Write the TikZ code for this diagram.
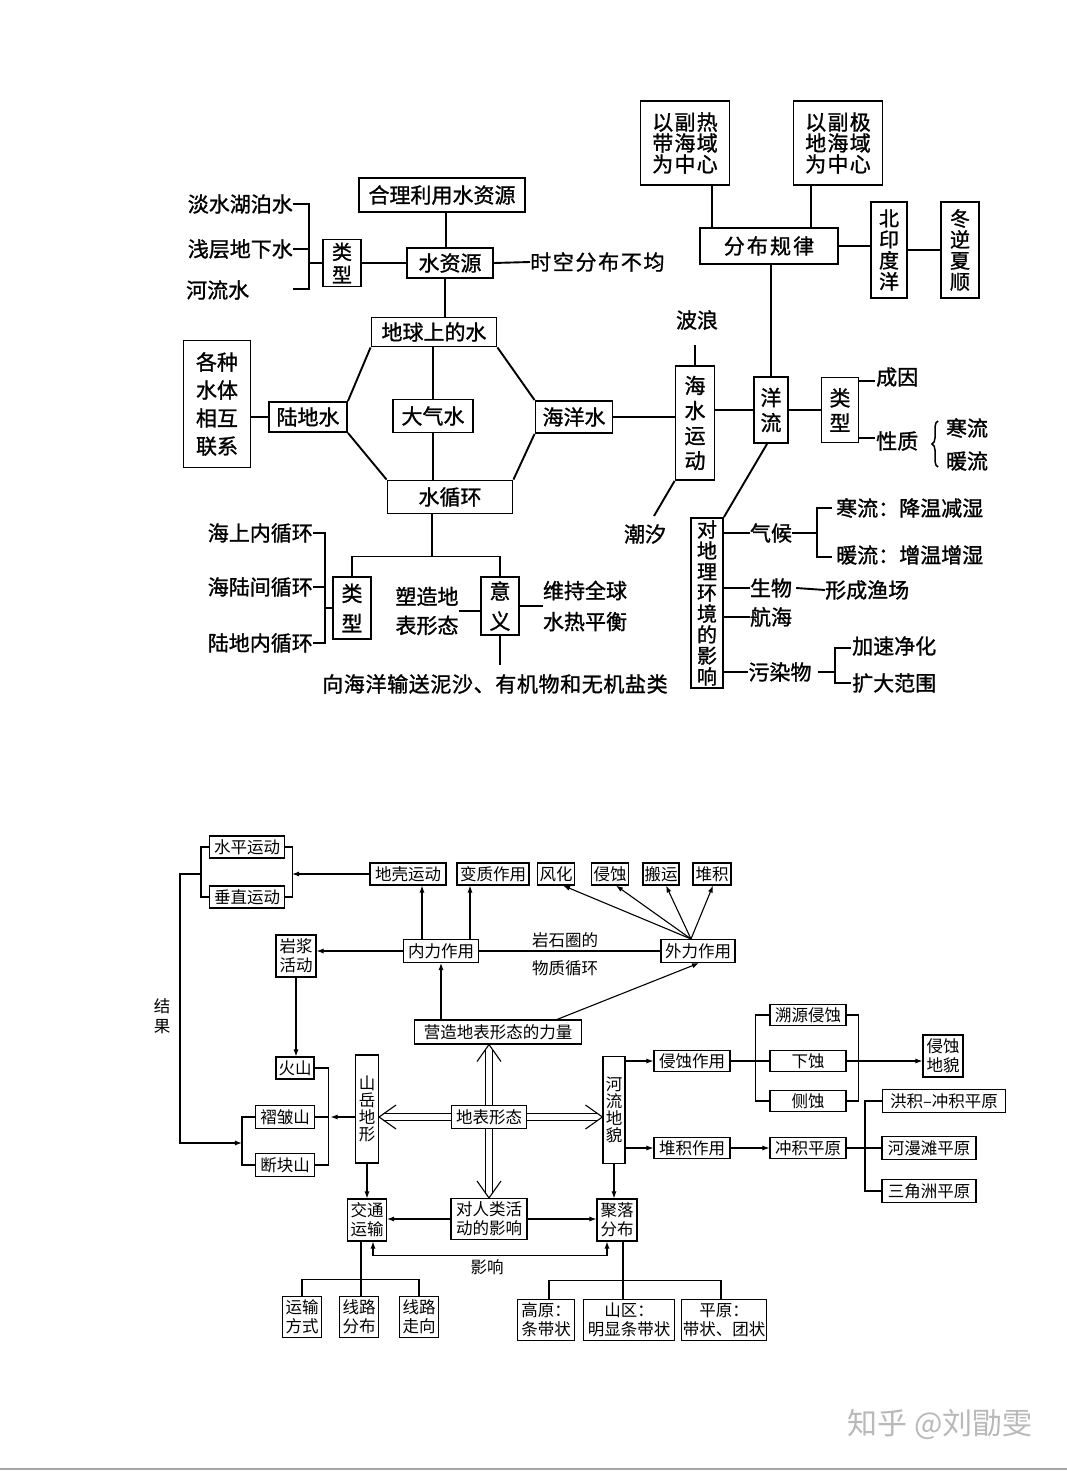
\documentclass[tikz,border=0pt]{standalone}
\usepackage{fontspec}
\setmainfont{Noto Sans CJK SC}
\newfontfamily\heavyfont{Noto Sans CJK SC}[FakeBold=1.2]
\usetikzlibrary{arrows.meta,decorations.pathreplacing}
\begin{document}
\begin{tikzpicture}[
        x = 1pt, y = -1pt,
        box/.style = {draw, line width=1.9pt, inner sep=0pt, align=center, font=\heavyfont\fontsize{21}{24}\selectfont},
        txt/.style = {inner sep=0pt, align=center, font=\heavyfont\fontsize{21}{24}\selectfont},
        sbox/.style = {draw, line width=1.1pt, inner sep=0pt, align=center, font=\fontsize{16.5}{19}\selectfont},
        stxt/.style = {inner sep=0pt, align=center, font=\fontsize{16.5}{19}\selectfont},
        arr/.style = {line width=1.1pt, -{Latex[length=7pt, width=5pt]}},
        dbl/.style = {double, double distance=6pt, line width=0.9pt},
        chev/.style = {line width=1.1pt},
        thk/.style = {line width=1.9pt},
        thn/.style = {line width=1.1pt}
    ]
    \fill[white] (0,0) rectangle (1067,1471);
    \useasboundingbox (0,0) rectangle (1067,1471);

    % water on the earth
    \node[box, minimum width=166pt, minimum height=34pt] (heli) at (442,195) {合理利用水资源};
    \node[box, minimum width=86pt, minimum height=30pt] (ziyuan) at (450,263) {水资源};
    \node[box, minimum width=38pt, minimum height=47pt, font=\heavyfont\fontsize{20}{23}\selectfont] (leixingA) at (342,263) {类\\型};
    \node[txt, anchor=east] (danshui) at (293,204) {淡水湖泊水};
    \node[txt, anchor=east] (qianceng) at (293,249) {浅层地下水};
    \node[txt, anchor=west] (heliushui) at (186,290) {河流水};
    \node[txt, anchor=west, font=\heavyfont\fontsize{21}{24}\selectfont\addfontfeatures{LetterSpace=8}] (shikong) at (530,262) {时空分布不均};
    \node[box, minimum width=125pt, minimum height=29pt] (diqiu) at (434,332) {地球上的水};
    \node[box, minimum width=78pt, minimum height=30pt] (ludi) at (308,417) {陆地水};
    \node[box, minimum width=80pt, minimum height=33pt] (daqi) at (433,416) {大气水};
    \node[box, minimum width=77pt, minimum height=32pt] (haiyang) at (574,417) {海洋水};
    \node[box, minimum width=125pt, minimum height=33pt] (xunhuan) at (450,497) {水循环};
    \node[box, minimum width=67pt, minimum height=127pt, font=\heavyfont\fontsize{21}{28}\selectfont] (gezhong) at (217,404) {各种\\水体\\相互\\联系};

    \draw[thk] (heli.south -| 446,0) -- (ziyuan.north -| 446,0);
    \draw[thk] (ziyuan.south -| 445,0) -- (diqiu.north -| 445,0);
    \draw[thk] (leixingA.east) -- (ziyuan.west);
    \draw[thk] (ziyuan.east) -- (shikong.west);
    \draw[thk] (danshui.east) -- (309,204) -- (309,289) -- (293,289);
    \draw[thk] (qianceng.east) -- (309,249);
    \draw[thk] (309,263) -- (leixingA.west);
    \draw[thk] (diqiu.south west) -- (ludi.north east) (ludi.south east) -- (xunhuan.north west);
    \draw[thk] (diqiu.south east) -- (haiyang.north west) (haiyang.south west) -- (xunhuan.north east);
    \draw[thk] (diqiu.south -| daqi.north) -- (daqi.north) (daqi.south) -- (daqi.south |- xunhuan.north);
    \draw[thk] (gezhong.east |- ludi) -- (ludi.west);

    % ocean currents
    \node[box, minimum width=39pt, minimum height=114pt, font=\heavyfont\fontsize{21}{25}\selectfont] (haishui) at (695,423) {海\\水\\运\\动};
    \node[txt] (bolang) at (697,320) {波浪};
    \node[txt] (chaoxi) at (645,534) {潮汐};
    \node[box, minimum width=34pt, minimum height=66pt, font=\heavyfont\fontsize{21}{25}\selectfont] (yangliu) at (771,410) {洋\\流};
    \node[box, minimum width=138pt, minimum height=36pt, font=\heavyfont\fontsize{21}{24}\selectfont\addfontfeatures{LetterSpace=10}] (fenbu) at (769,246) {分布规律};
    \node[box, minimum width=89pt, minimum height=84pt, font=\heavyfont\fontsize{21}{21}\selectfont\addfontfeatures{LetterSpace=6}] (reda) at (685,143) {以副热\\带海域\\为中心};
    \node[box, minimum width=89pt, minimum height=84pt, font=\heavyfont\fontsize{21}{21}\selectfont\addfontfeatures{LetterSpace=6}] (jidi) at (838,143) {以副极\\地海域\\为中心};
    \node[box, minimum width=36pt, minimum height=96pt, font=\heavyfont\fontsize{20}{21}\selectfont] (beiyin) at (889,250) {北\\印\\度\\洋};
    \node[box, minimum width=38pt, minimum height=96pt, font=\heavyfont\fontsize{20}{21}\selectfont] (dongni) at (960,250) {冬\\逆\\夏\\顺};
    \node[box, minimum width=37pt, minimum height=65pt, font=\heavyfont\fontsize{21}{25}\selectfont] (leixingB) at (840,410) {类\\型};
    \node[txt, anchor=west] (chengyin) at (876,377) {成因};
    \node[txt, anchor=west] (xingzhi) at (876,441) {性质};
    \node[txt] (hanliuA) at (967,428) {寒流};
    \node[txt] (nuanliuA) at (967,461) {暖流};
    \node[box, minimum width=32pt, minimum height=170pt, font=\heavyfont\fontsize{20}{21}\selectfont] (yingxiang) at (707,603) {对\\地\\理\\环\\境\\的\\影\\响};
    \node[txt] (qihou) at (771,533) {气候};
    \node[txt, anchor=west] (hanliuB) at (836,508) {寒流：降温减湿};
    \node[txt, anchor=west] (nuanliuB) at (836,555) {暖流：增温增湿};
    \node[txt] (shengwu) at (771,588) {生物};
    \node[txt, anchor=west] (yuchang) at (825,590) {形成渔场};
    \node[txt] (hanghai) at (771,617) {航海};
    \node[txt] (wuran) at (780,672) {污染物};
    \node[txt, anchor=west] (jingua) at (852,646) {加速净化};
    \node[txt, anchor=west] (kuoda) at (852,683) {扩大范围};

    \draw[thk] (haiyang.east) -- (haiyang.east -| haishui.west);
    \draw[thk] (haishui.north) -- (haishui.north |- 0,345);
    \draw[thk] (haishui.south west) -- (654,516);
    \draw[thk] (haishui.east |- yangliu) -- (yangliu.west);
    \draw[thk] (yangliu.north) -- (yangliu.north |- fenbu.south);
    \draw[thk] ([xshift=27pt]reda.south) -- ([xshift=27pt]reda.south |- fenbu.north);
    \draw[thk] ([xshift=-27pt]jidi.south) -- ([xshift=-27pt]jidi.south |- fenbu.north);
    \draw[thk] (fenbu.east) -- (fenbu.east -| beiyin.west);
    \draw[thk] (beiyin.east) -- (dongni.west);
    \draw[thk] (yangliu.east) -- (leixingB.west);
    \draw[thk] (leixingB.east |- 0,381) -- (875,381);
    \draw[thk] (leixingB.east |- 0,438) -- (875,438);
    \draw[decorate, decoration={brace, amplitude=6pt}, line width=1.5pt] (938,467) -- (938,421);
    \draw[thk] ([xshift=-4pt]yangliu.south) -- (yingxiang.north east);
    \draw[thk] (yingxiang.east |- qihou) -- (qihou.west);
    \draw[thk] (qihou.east) -- (817,533) (832,508) -- (817,508) -- (817,557) -- (832,557);
    \draw[thk] (yingxiang.east |- shengwu) -- (shengwu.west);
    \draw[thk] ([xshift=4pt]shengwu.east) -- (yuchang.west);
    \draw[thk] (yingxiang.east |- hanghai) -- (hanghai.west);
    \draw[thk] (yingxiang.east |- wuran) -- (wuran.west);
    \draw[thk] ([xshift=6pt]wuran.east) -- (835,672) (851,648) -- (835,648) -- (835,683) -- (851,683);

    % water cycle
    \node[box, minimum width=38pt, minimum height=62pt, font=\heavyfont\fontsize{21}{30}\selectfont] (leixingC) at (352,608) {类\\型};
    \node[box, minimum width=38pt, minimum height=58pt, font=\heavyfont\fontsize{21}{30}\selectfont] (yiyi) at (500,606) {意\\义};
    \node[txt, anchor=east] (haishang) at (313,533) {海上内循环};
    \node[txt, anchor=east] (hailu) at (313,587) {海陆间循环};
    \node[txt, anchor=east] (ludinei) at (313,643) {陆地内循环};
    \node[txt, font=\heavyfont\fontsize{21}{29}\selectfont] (suzao) at (427,611) {塑造地\\表形态};
    \node[txt, font=\heavyfont\fontsize{21}{31}\selectfont, align=left] (weichi) at (585,606) {维持全球\\水热平衡};
    \node[txt, font=\heavyfont\fontsize{21}{24}\selectfont\addfontfeatures{LetterSpace=3}] (shuyun) at (495,684) {向海洋输送泥沙、有机物和无机盐类};

    \draw[thk] ([xshift=-18pt]xunhuan.south) -- ++(0,42) coordinate (xh);
    \draw[thk] (leixingC.north) |- (xh) -| (yiyi.north);
    \draw[thk] (haishang.east) -- (325,533) -- (325,643) -- (ludinei.east);
    \draw[thk] (hailu.east) -- (325,587);
    \draw[thk] (leixingC.west) -- (leixingC.west -| 325,0);
    \draw[thk] (suzao.east) -- (suzao.east -| yiyi.west);
    \draw[thk] (yiyi.east) -- (yiyi.east -| weichi.west);
    \draw[thk] (yiyi.south) -- ++(0,29);

    % landforms
    \node[sbox, minimum width=75pt, minimum height=22pt] (shuiping) at (247,847) {水平运动};
    \node[sbox, minimum width=75pt, minimum height=22pt] (chuizhi) at (247,897) {垂直运动};
    \node[sbox, minimum width=76pt, minimum height=22pt] (diqiao) at (408,874) {地壳运动};
    \node[sbox, minimum width=72pt, minimum height=22pt] (bianzhi) at (493,874) {变质作用};
    \node[sbox, minimum width=37pt, minimum height=22pt] (fenghua) at (556,874) {风化};
    \node[sbox, minimum width=37pt, minimum height=22pt] (qinshi) at (610,874) {侵蚀};
    \node[sbox, minimum width=36pt, minimum height=22pt] (banyun) at (661,874) {搬运};
    \node[sbox, minimum width=38pt, minimum height=22pt] (duiji) at (712,874) {堆积};
    \node[sbox, minimum width=75pt, minimum height=23pt] (neili) at (441,951) {内力作用};
    \node[sbox, minimum width=74pt, minimum height=23pt] (waili) at (698,951) {外力作用};
    \node[stxt] (yanshi) at (565,940) {岩石圈的};
    \node[stxt] (wuzhi) at (565,968) {物质循环};
    \node[sbox, minimum width=40pt, minimum height=42pt] (yanjiang) at (296,956) {岩浆\\活动};
    \node[sbox, minimum width=167pt, minimum height=24pt] (yingzao) at (498,1032) {营造地表形态的力量};
    \node[stxt, font=\fontsize{16.5}{20}\selectfont] (jieguo) at (162,1016) {结\\果};
    \node[sbox, minimum width=38pt, minimum height=22pt] (huoshan) at (295,1068) {火山};
    \node[sbox, minimum width=59pt, minimum height=23pt] (zhezhou) at (285,1117) {褶皱山};
    \node[sbox, minimum width=59pt, minimum height=23pt] (duankuai) at (285,1165) {断块山};
    \node[sbox, minimum width=23pt, minimum height=108pt, font=\fontsize{16.5}{17}\selectfont] (shanyue) at (367,1109) {山\\岳\\地\\形};
    \node[sbox, minimum width=75pt, minimum height=23pt] (dibiao) at (489,1117) {地表形态};
    \node[sbox, minimum width=22pt, minimum height=107pt, font=\fontsize{16.5}{17}\selectfont] (heliudm) at (614,1110) {河\\流\\地\\貌};
    \node[sbox, minimum width=76pt, minimum height=41pt] (renlei) at (489,1219) {对人类活\\动的影响};
    \node[sbox, minimum width=39pt, minimum height=42pt] (jiaotong) at (367,1220) {交通\\运输};
    \node[sbox, minimum width=40pt, minimum height=42pt] (juluo) at (617,1220) {聚落\\分布};
    \node[stxt] (yingxiangB) at (487,1267) {影响};
    \node[sbox, minimum width=39pt, minimum height=41pt] (fangshi) at (302,1317) {运输\\方式};
    \node[sbox, minimum width=39pt, minimum height=41pt] (fenbuB) at (359,1317) {线路\\分布};
    \node[sbox, minimum width=39pt, minimum height=41pt] (zouxiang) at (419,1317) {线路\\走向};
    \node[sbox, minimum width=76pt, minimum height=21pt] (qinzy) at (692,1061) {侵蚀作用};
    \node[sbox, minimum width=76pt, minimum height=21pt] (duijizy) at (692,1148) {堆积作用};
    \node[sbox, minimum width=76pt, minimum height=21pt] (suyuan) at (808,1015) {溯源侵蚀};
    \node[sbox, minimum width=76pt, minimum height=21pt] (xiashi) at (808,1061) {下蚀};
    \node[sbox, minimum width=76pt, minimum height=21pt] (ceshi) at (808,1101) {侧蚀};
    \node[sbox, minimum width=40pt, minimum height=42pt] (qindm) at (943,1056) {侵蚀\\地貌};
    \node[sbox, minimum width=76pt, minimum height=21pt] (chongji) at (808,1148) {冲积平原};
    \node[sbox, minimum width=123pt, minimum height=23pt] (hongji) at (944,1101) {洪积–冲积平原};
    \node[sbox, minimum width=94pt, minimum height=23pt] (heman) at (929,1148) {河漫滩平原};
    \node[sbox, minimum width=94pt, minimum height=23pt] (sanjiao) at (929,1191) {三角洲平原};
    \node[sbox, minimum width=57pt, minimum height=41pt] (gaoyuan) at (546,1320) {高原：\\条带状};
    \node[sbox, minimum width=91pt, minimum height=41pt] (shanqu) at (629,1320) {山区：\\明显条带状};
    \node[sbox, minimum width=85pt, minimum height=41pt] (pingyuan) at (724,1320) {平原：\\带状、团状};

    \draw[thn] (shuiping.east) -- ++(7,0) coordinate (kr1) |- (chuizhi.east);
    \draw[thn] (shuiping.west) -- ++(-8,0) coordinate (kl1) |- (chuizhi.west);
    \draw[arr] (diqiao.west) -- (kr1 |- diqiao);
    \draw[thn] (zhezhou.west) -- ++(-13,0) coordinate (kl2) |- (duankuai.west);
    \draw[arr] (kl1 |- diqiao) -- ++(-21,0) |- (kl2 |- 0,1143);
    \draw[thn] (huoshan.east) -- ++(14,0) coordinate (kr2) |- (duankuai.east);
    \draw[thn] (zhezhou.east) -- (kr2 |- zhezhou);
    \draw[arr] (shanyue.west |- zhezhou) -- ([xshift=2pt]kr2 |- zhezhou);
    \draw[arr] (neili.west) -- (yanjiang.east |- neili);
    \draw[arr] (yanjiang.south) -- (yanjiang.south |- huoshan.north);
    \draw[arr] ([xshift=-19pt]neili.north) -- ([xshift=-19pt]neili.north |- diqiao.south);
    \draw[arr] ([xshift=29pt]neili.north) -- ([xshift=29pt]neili.north |- bianzhi.south);
    \draw[thn] (neili.east) -- (waili.west);
    \draw[arr] ([xshift=-7pt]waili.north) -- ([xshift=7pt]fenghua.south);
    \draw[arr] ([xshift=-7pt]waili.north) -- ([xshift=6pt]qinshi.south);
    \draw[arr] ([xshift=-7pt]waili.north) -- ([xshift=5pt]banyun.south);
    \draw[arr] ([xshift=-7pt]waili.north) -- ([xshift=1pt]duiji.south);
    \draw[arr] (yingzao.north -| neili) -- (neili.south);
    \draw[arr] ([xshift=59pt]yingzao.north) -- ([xshift=1pt]waili.south);

    \coordinate (tipL) at (shanyue.east |- dibiao);
    \coordinate (tipR) at (heliudm.west |- dibiao);
    \coordinate (tipU) at (dibiao.north |- yingzao.south);
    \coordinate (tipD) at (dibiao.south |- renlei.north);
    \draw[dbl] (dibiao.west) -- ([xshift=4pt]tipL);
    \draw[dbl] (dibiao.east) -- ([xshift=-4pt]tipR);
    \draw[dbl] (dibiao.north) -- ([yshift=-4pt]tipU);
    \draw[dbl] (dibiao.south) -- ([yshift=4pt]tipD);
    \draw[chev] ([shift={(17,-12)}]tipL) -- (tipL) -- ++(17,12);
    \draw[chev] ([shift={(-17,-12)}]tipR) -- (tipR) -- ++(-17,12);
    \draw[chev] ([shift={(-12,17)}]tipU) -- (tipU) -- ++(12,17);
    \draw[chev] ([shift={(-12,-17)}]tipD) -- (tipD) -- ++(12,-17);

    \draw[arr] (shanyue.south) -- (shanyue.south |- jiaotong.north);
    \draw[arr] (heliudm.south) -- (heliudm.south |- juluo.north);
    \draw[arr] (renlei.west) -- (jiaotong.east |- renlei);
    \draw[arr] (renlei.east) -- (juluo.west |- renlei);
    \draw[line width=1.1pt, {Latex[length=7pt, width=5pt]}-{Latex[length=7pt, width=5pt]}] ([xshift=6pt]jiaotong.south) -- ++(0,14) -| ([xshift=-10pt]juluo.south);
    \draw[thn] ([xshift=-6pt]jiaotong.south) -- ++(0,38) coordinate (jt);
    \draw[thn] (fangshi.north) |- (jt) -| (zouxiang.north);
    \draw[thn] (jt) -- (jt |- fenbuB.north);
    \draw[thn] ([xshift=6pt]juluo.south) -- ++(0,39) coordinate (jl);
    \draw[thn] ([xshift=3pt]gaoyuan.north) |- (jl) -| ([xshift=-3pt]pingyuan.north);
    \draw[thn] (jl) -- (jl |- shanqu.north);
    \draw[arr] (heliudm.east |- qinzy) -- (qinzy.west);
    \draw[arr] (heliudm.east |- duijizy) -- (duijizy.west);
    \draw[thn] (qinzy.east) -- (xiashi.west);
    \draw[thn] (suyuan.west) -- ++(-14,0) |- (ceshi.west);
    \draw[thn] (suyuan.east) -- ++(12,0) |- (ceshi.east);
    \draw[arr] (xiashi.east) -- (qindm.west |- xiashi);
    \draw[arr] (duijizy.east) -- (chongji.west);
    \draw[thn] (chongji.east) -- (heman.west);
    \draw[thn] (hongji.west) -- ++(-17,0) |- (sanjiao.west);

    \node[text=gray!55, font=\fontsize{30}{32}\selectfont] (shuiyin) at (940,1424) {知乎 @刘勖雯};
    \draw[gray!70, line width=2pt] (0,1469) -- (1067,1469);
\end{tikzpicture}
\end{document}
